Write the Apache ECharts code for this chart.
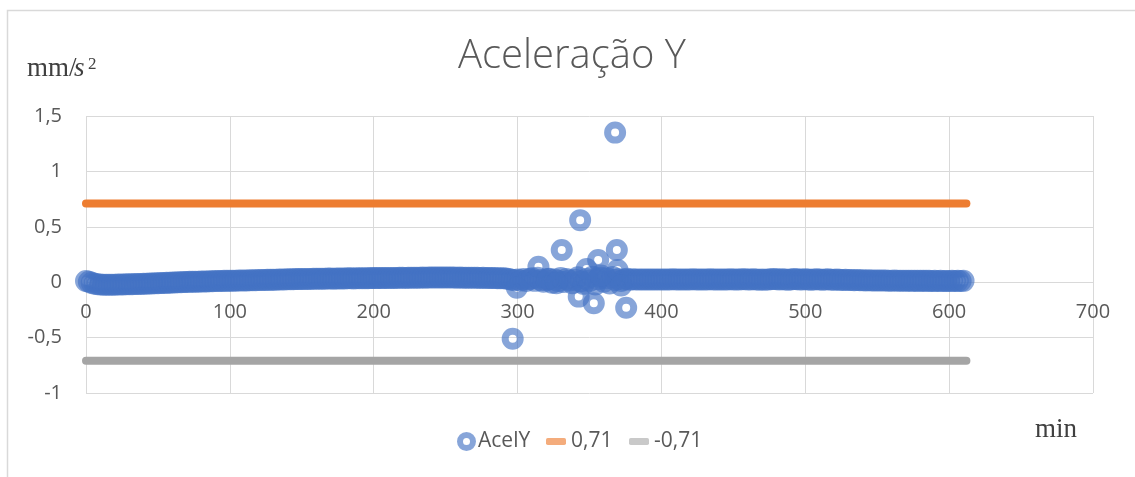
<!DOCTYPE html>
<html>
<head>
<meta charset="utf-8">
<title>Aceleração Y</title>
<script src="https://cdn.jsdelivr.net/npm/echarts@6/dist/echarts.min.js"></script>
<style>
  html, body { margin: 0; padding: 0; background: #fff; }
  #charts { width: 1135px; height: 477px; }
</style>
</head>
<body>
<div id="charts"></div>
<script>
// AcelY read every 2 minutes (0 .. 610 min)
var sampleStep = 2;
var acelY = [
    0.010, 0.004, -0.006, -0.013, -0.018, -0.021, -0.022, -0.023, -0.022, -0.023,
    -0.022, -0.021, -0.021, -0.020, -0.019, -0.019, -0.018, -0.017, -0.017, -0.016,
    -0.014, -0.013, -0.012, -0.011, -0.010, -0.009, -0.008, -0.007, -0.006, -0.004,
    -0.003, -0.002, -0.001, 0.000, 0.001, 0.002, 0.003, 0.004, 0.004, 0.005,
    0.006, 0.007, 0.007, 0.008, 0.009, 0.010, 0.010, 0.011, 0.012, 0.012,
    0.013, 0.013, 0.014, 0.015, 0.015, 0.016, 0.016, 0.017, 0.018, 0.018,
    0.019, 0.019, 0.020, 0.021, 0.021, 0.022, 0.023, 0.024, 0.024, 0.025,
    0.026, 0.026, 0.027, 0.028, 0.028, 0.029, 0.029, 0.030, 0.030, 0.031,
    0.031, 0.032, 0.031, 0.032, 0.033, 0.033, 0.032, 0.033, 0.034, 0.034,
    0.034, 0.035, 0.035, 0.034, 0.035, 0.036, 0.036, 0.035, 0.036, 0.037,
    0.037, 0.037, 0.038, 0.037, 0.038, 0.039, 0.038, 0.039, 0.039, 0.040,
    0.040, 0.039, 0.040, 0.041, 0.040, 0.041, 0.041, 0.042, 0.041, 0.042,
    0.042, 0.043, 0.042, 0.043, 0.043, 0.042, 0.043, 0.042, 0.042, 0.041,
    0.042, 0.041, 0.041, 0.040, 0.041, 0.040, 0.040, 0.039, 0.040, 0.039,
    0.038, 0.038, 0.037, 0.036, 0.036, 0.035, 0.034, 0.030, 0.022, 0.018,
    0.025, 0.015, 0.030, 0.010, 0.028, 0.035, 0.012, 0.040, 0.020, 0.005,
    0.018, 0.032, -0.005, 0.025, 0.010, 0.038, 0.002, 0.030, 0.015, -0.010,
    0.022, 0.045, 0.008, -0.015, 0.030, 0.012, 0.050, -0.020, 0.028, 0.040,
    0.005, 0.035, -0.012, 0.048, 0.020, 0.030, 0.010, 0.025, 0.032, 0.022,
    0.026, 0.024, 0.025, 0.024, 0.024, 0.025, 0.024, 0.025, 0.025, 0.024,
    0.025, 0.025, 0.024, 0.025, 0.026, 0.025, 0.025, 0.024, 0.025, 0.025,
    0.025, 0.026, 0.025, 0.025, 0.024, 0.025, 0.025, 0.026, 0.025, 0.025,
    0.025, 0.024, 0.025, 0.025, 0.026, 0.025, 0.024, 0.025, 0.026, 0.027,
    0.025, 0.024, 0.026, 0.025, 0.023, 0.024, 0.023, 0.024, 0.026, 0.028,
    0.026, 0.024, 0.027, 0.025, 0.023, 0.025, 0.028, 0.026, 0.024, 0.025,
    0.027, 0.025, 0.023, 0.024, 0.027, 0.025, 0.022, 0.024, 0.026, 0.023,
    0.022, 0.024, 0.021, 0.020, 0.022, 0.019, 0.020, 0.018, 0.019, 0.017,
    0.017, 0.016, 0.017, 0.016, 0.016, 0.015, 0.016, 0.015, 0.015, 0.014,
    0.014, 0.015, 0.014, 0.013, 0.014, 0.013, 0.013, 0.012, 0.013, 0.012,
    0.012, 0.013, 0.012, 0.012, 0.011, 0.012, 0.011, 0.012, 0.011, 0.011,
    0.011, 0.012, 0.011, 0.012, 0.011, 0.012
];
// spikes between 295 and 380 min
var spikeMin = [296.6, 299.5, 314.5, 321, 327, 330.7, 342.5, 343.5, 348, 353, 356, 358, 367.8, 369, 369.5, 372, 375.5];
var spikeY   = [-0.51, -0.05, 0.14, 0.03, -0.01, 0.29, -0.13, 0.56, 0.12, -0.19, 0.2, 0.06, 1.35, 0.29, 0.11, -0.03, -0.23];

var upperLimit = 0.71;
var lowerLimit = -0.71;
var limitSpan = [0, 612];

var xTicks = [0, 700, 100];
var yTicks = [-1, 1.5, 0.5];

var points = [];
for (var i = 0; i < acelY.length; i++) {
    points.push([i * sampleStep, acelY[i]]);
}
for (var j = 0; j < spikeMin.length; j++) {
    points.push([spikeMin[j], spikeY[j]]);
}

var comma = function (v) { return String(v).replace('.', ','); };
var grey = '#595959';
var font = '"Open Sans", "Noto Sans", sans-serif';
var ring = 'rgba(68,114,196,0.8)';

var myChart = echarts.init(document.getElementById('charts'));
var option = {
    animation: false,
    backgroundColor: '#fff',
    title: {
        text: 'Aceleração Y',
        left: 453,
        top: 32,
        textStyle: { color: grey, fontSize: 40, fontWeight: 300, fontFamily: font }
    },
    legend: [
        {
            data: [{ name: 'AcelY', icon: 'circle', itemStyle: { color: '#fff', borderColor: ring, borderWidth: 6 } }],
            left: 452, top: 426, itemWidth: 13, itemHeight: 13,
            textStyle: { color: grey, fontSize: 21, fontFamily: font }
        },
        {
            data: [{ name: '0,71', icon: 'roundRect', itemStyle: { color: '#F4AC7C' } }],
            left: 541, top: 426, itemWidth: 20, itemHeight: 7,
            textStyle: { color: grey, fontSize: 21, fontFamily: font }
        },
        {
            data: [{ name: '-0,71', icon: 'roundRect', itemStyle: { color: '#C9C9C9' } }],
            left: 624, top: 426, itemWidth: 20, itemHeight: 7,
            textStyle: { color: grey, fontSize: 21, fontFamily: font }
        }
    ],
    grid: { left: 86, right: 42, top: 116, bottom: 84 },
    xAxis: {
        type: 'value',
        min: xTicks[0], max: xTicks[1], interval: xTicks[2],
        position: 'bottom',
        offset: -111,
        axisLine: { onZero: false, lineStyle: { color: '#d9d9d9', width: 1 } },
        axisTick: { show: false },
        axisLabel: { color: grey, fontSize: 20, fontFamily: font, margin: 20 },
        splitLine: { lineStyle: { color: '#d9d9d9', width: 1 } }
    },
    yAxis: {
        type: 'value',
        min: yTicks[0], max: yTicks[1], interval: yTicks[2],
        axisLine: { show: false },
        axisTick: { show: false },
        axisLabel: { color: grey, fontSize: 20, fontFamily: font, margin: 24, formatter: comma },
        splitLine: { lineStyle: { color: '#d9d9d9', width: 1 } }
    },
    series: [
        {
            name: 'AcelY',
            type: 'scatter',
            data: points,
            symbol: 'circle',
            symbolSize: 15,
            itemStyle: { color: 'rgba(255,255,255,0)', borderColor: ring, borderWidth: 7 },
            emphasis: { disabled: true },
            z: 2
        },
        {
            name: '0,71',
            type: 'line',
            data: [[limitSpan[0], upperLimit], [limitSpan[1], upperLimit]],
            showSymbol: false,
            symbol: 'none',
            lineStyle: { color: '#ED7D31', width: 8, cap: 'round' },
            itemStyle: { color: '#ED7D31' },
            emphasis: { disabled: true },
            z: 3
        },
        {
            name: '-0,71',
            type: 'line',
            data: [[limitSpan[0], lowerLimit], [limitSpan[1], lowerLimit]],
            showSymbol: false,
            symbol: 'none',
            lineStyle: { color: '#A5A5A5', width: 8, cap: 'round' },
            itemStyle: { color: '#A5A5A5' },
            emphasis: { disabled: true },
            z: 3
        }
    ],
    graphic: [
        {
            type: 'rect', silent: true, z: -1,
            shape: { x: 7.5, y: 10.5, width: 1140, height: 480 },
            style: { fill: null, stroke: '#d9d9d9', lineWidth: 1.5 }
        },
        {
            type: 'text', left: 27, top: 55, silent: true,
            style: { text: 'mm/', font: '27px "Liberation Serif", serif', fill: '#404040' }
        },
        {
            type: 'text', left: 74, top: 55, silent: true,
            style: { text: 's', font: 'italic 27px "Liberation Serif", serif', fill: '#404040' }
        },
        {
            type: 'text', left: 88, top: 56, silent: true,
            style: { text: '2', font: '17px "Liberation Serif", serif', fill: '#404040' }
        },
        {
            type: 'text', left: 1035, top: 416, silent: true,
            style: { text: 'min', font: '27px "Liberation Serif", serif', fill: '#404040' }
        }
    ]
};

myChart.setOption(option);
</script>
</body>
</html>
